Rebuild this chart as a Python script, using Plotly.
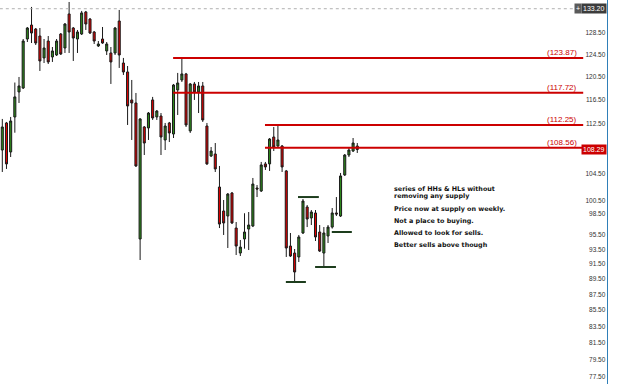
import math
import plotly.graph_objects as go

# ---- data ----
opens = [108.21,112.6,107.9,113.6,117.86,118.54,127.4,130.05,129.29,127.96,
         123.9,127.02,124.08,124.44,128.34,125.73,132.18,129.48,127.4,128.34,
         132.57,131.2,128.72,126.1,127.4,125.18,124.81,124.81,130.82,122.98,
         121.37,116.48,115.96,94.94,111.94,111.78,116.48,113.6,113.76,109.82,
         112.6,110.79,118.2,119.95,121.02,111.29,119.25,117.86,118.9,112.1,
         107.26,107.58,102.48,98.93,98.2,101.58,96.48,93.0,94.94,96.34,
         96.77,102.33,101.88,106.02,106.02,110.3,108.85,108.85,104.93,93.96,
         93.0,92.46,95.78,99.51,97.92,98.64,95.92,93.0,95.36,96.62,
         98.64,98.2,104.31,107.42,108.05,108.85]
highs = [113.27,112.77,113.6,119.5,120.48,127.4,129.67,133.55,129.48,129.48,
         127.4,127.96,125.91,127.4,128.53,130.43,134.53,129.67,129.1,132.77,
         132.77,131.4,128.91,127.02,129.67,126.84,125.91,129.67,132.96,123.9,
         122.44,119.95,117.68,113.4,112.1,114.43,117.0,114.77,114.26,112.6,
         112.77,119.25,121.2,123.9,121.2,119.42,119.6,119.6,119.6,112.6,
         108.69,109.33,105.7,100.54,101.58,101.73,97.34,94.8,98.6,98.78,
         103.85,102.78,106.33,106.33,110.14,111.94,112.27,109.01,105.08,95.78,
         93.55,95.5,100.69,99.8,99.07,99.07,96.91,96.62,96.91,99.36,
         100.98,104.62,107.58,108.53,110.14,109.33]
lows = [104.77,105.24,107.1,111.0,115.96,118.37,126.84,126.65,126.28,121.55,
        122.98,122.8,123.17,124.26,124.44,124.81,124.81,123.35,124.81,128.15,
        129.1,128.34,126.47,125.91,126.5,124.44,119.25,124.44,122.09,120.84,
        112.27,109.82,105.55,92.05,107.42,109.82,113.1,113.1,107.42,108.21,
        109.49,110.14,113.93,119.6,111.94,110.96,116.48,114.26,112.77,105.86,
        107.1,104.77,96.48,95.5,93.69,97.05,92.73,92.59,93.6,93.41,
        96.62,100.98,101.73,105.08,104.93,108.05,108.53,104.77,92.46,92.46,
        89.2,91.78,95.64,96.62,96.91,94.66,93.14,91.2,94.38,96.4,
        98.2,98.06,104.16,107.1,107.89,107.74]
closes = [111.94,106.02,112.93,117.0,118.9,127.02,129.48,128.53,126.65,123.35,
          125.73,123.17,125.18,127.02,124.62,130.24,128.72,127.58,128.72,132.38,
          130.24,128.53,127.02,126.47,126.65,126.47,123.17,129.48,124.44,121.37,
          115.45,115.96,105.7,113.27,109.33,114.26,113.43,114.6,110.3,112.1,
          110.96,119.07,119.42,121.02,112.27,119.25,117.86,118.9,113.1,106.02,
          108.05,105.24,97.05,97.2,101.43,97.2,93.96,93.82,95.92,96.91,
          102.93,102.18,105.86,105.55,109.98,108.69,109.82,105.55,93.69,92.59,
          90.44,95.22,100.39,97.77,98.78,95.22,93.27,95.78,96.62,98.64,
          98.49,104.16,107.42,108.21,109.33,108.29]

level_values = [123.87, 117.72, 112.25, 108.56]
level_starts = [40.9, 40.9, 62.9, 62.9]
level_end = 139.1

swing_values = [100.98, 89.12, 91.11, 95.92]
swing_starts = [70.8, 67.9, 74.9, 78.9]
swing_ends = [75.8, 72.7, 79.9, 83.7]

high_mark = 133.20
last_price = 108.29

tick_values = [77.5, 79.5, 81.5, 83.5, 85.5, 87.5, 89.5, 91.5, 93.5, 95.5,
               98.5, 100.5, 104.5, 112.5, 116.5, 120.5, 124.5, 128.5]
tick_text = ["%.2f" % v for v in tick_values]

notes = ["series of HHs & HLs without", "removing any supply",
         "Price now at supply on weekly.", "Not a place to buying.",
         "Allowed to look for sells.", "Better sells above though"]
note_px = [189, 196, 209, 221, 233, 245]

x = list(range(len(opens)))

fig = go.Figure()

# dotted line at high mark
fig.add_trace(go.Scatter(x=[-0.6, 137.1], y=[high_mark, high_mark], mode="lines",
                         line=dict(color="#b0b0b0", width=1, dash="dot"),
                         hoverinfo="skip", showlegend=False))

fig.add_trace(go.Candlestick(
    x=x, open=opens, high=highs, low=lows, close=closes,
    increasing=dict(line=dict(color="#1a1a1a", width=1), fillcolor="#2e8a1c"),
    decreasing=dict(line=dict(color="#1a1a1a", width=1), fillcolor="#e00000"),
    whiskerwidth=0, showlegend=False))

for v, s in zip(level_values, level_starts):
    fig.add_trace(go.Scatter(x=[s, level_end], y=[v, v], mode="lines",
                             line=dict(color="#cc0000", width=2),
                             hoverinfo="skip", showlegend=False))
    fig.add_annotation(x=level_end - 1, y=math.log10(v), xref="x", yref="y",
                       text="(%.2f)" % v, showarrow=False, xanchor="right",
                       yanchor="bottom", yshift=-1,
                       font=dict(family="Liberation Sans, Arial", size=8, color="#cc0000"))

for v, s, e in zip(swing_values, swing_starts, swing_ends):
    fig.add_trace(go.Scatter(x=[s, e], y=[v, v], mode="lines",
                             line=dict(color="#1d3d1d", width=2),
                             hoverinfo="skip", showlegend=False))

for t, py in zip(notes, note_px):
    fig.add_annotation(x=93.3, y=1 - py / 384, xref="x", yref="paper",
                       text="<b>" + t + "</b>", showarrow=False,
                       xanchor="left", yanchor="middle",
                       font=dict(family="DejaVu Sans", size=6.4, color="#111111"))

# price tags
fig.add_annotation(x=1, y=math.log10(high_mark), xref="paper", yref="y",
                   text="133.20", showarrow=False, xanchor="right", yanchor="middle",
                   bgcolor="#3c3c3c", borderpad=1,
                   font=dict(family="Liberation Sans, Arial", size=7, color="#ffffff"))
fig.add_annotation(x=0.958, y=math.log10(high_mark), xref="paper", yref="y",
                   text="+", showarrow=False, xanchor="right", yanchor="middle",
                   bgcolor="#5a5a5a", borderpad=1,
                   font=dict(family="Liberation Sans, Arial", size=7, color="#ffffff"))
fig.add_annotation(x=1, y=math.log10(last_price), xref="paper", yref="y",
                   text="108.29", showarrow=False, xanchor="right", yanchor="middle",
                   bgcolor="#cc0000", borderpad=1,
                   font=dict(family="Liberation Sans, Arial", size=7, color="#ffffff"))

ymin = 77.5 * math.exp(-7 / 680)
ymax = 77.5 * math.exp(377 / 680)

fig.update_layout(
    width=625, height=384,
    margin=dict(l=0, r=18, t=0, b=0),
    paper_bgcolor="white", plot_bgcolor="white",
    boxgap=0.3,
    xaxis=dict(range=[-0.551, 144.8], visible=False, showgrid=False,
               rangeslider=dict(visible=False)),
    yaxis=dict(type="log", range=[math.log10(ymin), math.log10(ymax)],
               side="right", ticklabelposition="inside",
               tickvals=tick_values, ticktext=tick_text, ticks="",
               showgrid=False, zeroline=False,
               showline=True, linecolor="#2f7fb8", linewidth=1,
               tickfont=dict(family="Liberation Sans, Arial", size=6.5, color="#333333")),
)

fig.write_html("out.html")
